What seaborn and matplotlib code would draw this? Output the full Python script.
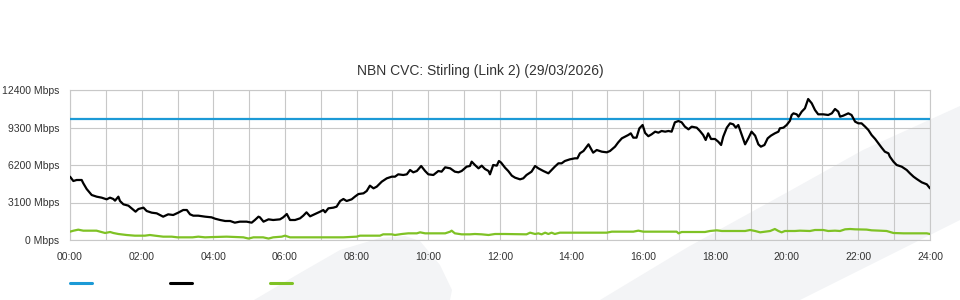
import matplotlib
matplotlib.use('Agg')
import matplotlib.pyplot as plt
import matplotlib.patches as mpatches
from matplotlib.lines import Line2D
from matplotlib.ticker import MultipleLocator
import seaborn as sns

# ---------------- data ----------------
title = "NBN CVC: Stirling (Link 2) (29/03/2026)"
y_ticks = [0, 3100, 6200, 9300, 12400]
y_tick_labels = [f"{v} Mbps" for v in y_ticks]
x_tick_hours = list(range(0, 25, 2))
x_tick_labels = [f"{h:02d}:00" for h in x_tick_hours]

cap_hours = [0, 24]
cap_mbps = [10000, 10000]

dl_hours = [0.0, 0.093, 0.186, 0.326, 0.372, 0.465, 0.605, 0.744, 0.884, 1.023,
            1.116, 1.209, 1.256, 1.35, 1.395, 1.49, 1.63, 1.72, 1.83, 1.91,
            2.05, 2.14, 2.28, 2.42, 2.60, 2.74, 2.88, 3.02, 3.16, 3.26,
            3.35, 3.44, 3.58, 3.77, 3.95, 4.05, 4.19, 4.33, 4.47, 4.60,
            4.74, 4.93, 5.07, 5.16, 5.26, 5.30, 5.40, 5.54, 5.67, 5.86,
            5.95, 6.05, 6.14, 6.28, 6.42, 6.51, 6.60, 6.70, 6.84, 6.98,
            7.07, 7.12, 7.21, 7.35, 7.44, 7.54, 7.63, 7.72, 7.86, 7.95,
            8.05, 8.19, 8.28, 8.37, 8.47, 8.56, 8.70, 8.84, 8.98, 9.07,
            9.16, 9.30, 9.40, 9.49, 9.58, 9.68, 9.80, 9.91, 10.0, 10.14,
            10.28, 10.37, 10.47, 10.61, 10.74, 10.84, 10.93, 11.07, 11.16, 11.21,
            11.30, 11.40, 11.49, 11.58, 11.68, 11.72, 11.81, 11.91, 11.97, 12.03,
            12.14, 12.23, 12.33, 12.42, 12.56, 12.65, 12.74, 12.88, 12.98, 13.07,
            13.21, 13.35, 13.44, 13.53, 13.63, 13.72, 13.81, 13.95, 14.09, 14.16,
            14.23, 14.33, 14.47, 14.56, 14.60, 14.70, 14.84, 14.98, 15.07, 15.21,
            15.30, 15.40, 15.49, 15.58, 15.65, 15.72, 15.81, 15.89, 15.98, 16.05,
            16.14, 16.23, 16.33, 16.42, 16.51, 16.61, 16.70, 16.79, 16.88, 16.98,
            17.07, 17.16, 17.26, 17.35, 17.49, 17.58, 17.67, 17.74, 17.81, 17.89,
            18.0, 18.09, 18.17, 18.23, 18.33, 18.42, 18.51, 18.58, 18.65, 18.75,
            18.84, 18.93, 19.02, 19.12, 19.21, 19.28, 19.38, 19.47, 19.56, 19.67,
            19.77, 19.81, 19.91, 20.0, 20.09, 20.14, 20.19, 20.28, 20.33, 20.42,
            20.51, 20.60, 20.70, 20.79, 20.88, 21.02, 21.16, 21.26, 21.35, 21.44,
            21.49, 21.58, 21.72, 21.81, 21.91, 22.0, 22.09, 22.19, 22.28, 22.37,
            22.47, 22.56, 22.65, 22.74, 22.84, 22.88, 22.98, 23.07, 23.21, 23.35,
            23.44, 23.54, 23.63, 23.77, 23.91, 24.0]
dl_mbps = [5236, 4877, 4960, 4960, 4685, 4216, 3720, 3582, 3500, 3362,
           3500, 3390, 3252, 3582, 3224, 2949, 2838, 2618, 2342, 2563,
           2673, 2397, 2259, 2205, 1929, 2122, 2067, 2259, 2480, 2480,
           2122, 2011, 2011, 1929, 1874, 1760, 1653, 1571, 1571, 1433,
           1516, 1516, 1433, 1653, 1929, 1874, 1516, 1708, 1653, 1708,
           1874, 2149, 1653, 1653, 1791, 2011, 2287, 1957, 2149, 2342,
           2480, 2287, 2618, 2673, 2755, 3224, 3390, 3224, 3362, 3582,
           3800, 3858, 4051, 4492, 4271, 4409, 4822, 5098, 5236, 5236,
           5429, 5374, 5429, 5787, 5594, 5704, 6118, 5704, 5429, 5374,
           5704, 5649, 6008, 5925, 5649, 5594, 5704, 6063, 6118, 6476,
           6200, 5925, 6145, 5870, 5704, 5429, 6200, 6145, 6531, 6400,
           5980, 5704, 5318, 5153, 5015, 5098, 5374, 5649, 6118, 5925,
           5704, 5511, 5787, 6063, 6338, 6338, 6531, 6669, 6752, 6752,
           7165, 7358, 7909, 7440, 7220, 7440, 7302, 7248, 7358, 7716,
           8074, 8405, 8542, 8680, 8818, 8460, 8460, 9231, 9507, 8850,
           8580, 8736, 8956, 8873, 9011, 8956, 9011, 8956, 9727, 9838,
           9727, 9369, 9149, 9369, 9286, 9011, 8680, 8267, 8818, 8350,
           8350, 8129, 7854, 8542, 9286, 9645, 9562, 9286, 9507, 8680,
           7909, 8405, 8956, 8625, 7909, 7716, 7854, 8405, 8625, 8818,
           8956, 9231, 9286, 9507, 9850, 10334, 10471, 10389, 10196, 10609,
           10885, 11656, 11298, 10747, 10389, 10389, 10334, 10471, 10830, 10609,
           10196, 10279, 10471, 10334, 9783, 9645, 9645, 9369, 9094, 8680,
           8350, 7991, 7633, 7302, 7165, 6889, 6476, 6200, 6063, 5787,
           5511, 5236, 5043, 4767, 4602, 4271]

ul_hours = [0.0, 0.1, 0.23, 0.37, 0.74, 0.84, 0.98, 1.12, 1.21, 1.35,
            1.58, 1.81, 1.95, 2.09, 2.23, 2.37, 2.6, 2.84, 3.0, 3.19,
            3.42, 3.58, 3.77, 3.95, 4.37, 4.84, 4.98, 5.12, 5.39, 5.54,
            5.67, 5.91, 6.0, 6.14, 6.7, 7.63, 8.0, 8.09, 8.65, 8.74,
            8.98, 9.07, 9.26, 9.44, 9.68, 9.77, 9.91, 10.19, 10.47, 10.61,
            10.65, 10.74, 10.93, 11.16, 11.3, 11.49, 11.68, 11.86, 12.14, 12.74,
            12.84, 12.98, 13.07, 13.16, 13.26, 13.35, 13.44, 13.53, 13.67, 14.33,
            14.98, 15.12, 15.72, 15.86, 16.0, 16.93, 16.98, 17.07, 17.72, 17.86,
            18.05, 18.19, 18.84, 18.98, 19.12, 19.26, 19.4, 19.54, 19.67, 19.77,
            19.86, 19.95, 20.23, 20.37, 20.65, 20.79, 21.02, 21.16, 21.35, 21.49,
            21.63, 21.77, 21.91, 22.23, 22.37, 22.6, 22.79, 22.98, 23.26, 23.63,
            23.91, 24.0]
ul_mbps = [689, 771, 854, 771, 771, 689, 579, 661, 579, 496,
           413, 358, 358, 358, 413, 358, 276, 276, 220, 220,
           220, 276, 220, 240, 276, 220, 120, 220, 220, 120,
           220, 276, 358, 220, 220, 220, 276, 358, 358, 468,
           468, 413, 496, 551, 551, 634, 551, 551, 551, 689,
           771, 551, 468, 468, 496, 468, 413, 496, 496, 468,
           606, 496, 551, 468, 606, 496, 606, 496, 606, 606,
           606, 689, 689, 771, 689, 689, 551, 661, 661, 744,
           799, 744, 744, 827, 744, 634, 689, 744, 909, 744,
           634, 744, 744, 771, 744, 827, 827, 744, 771, 744,
           882, 909, 882, 860, 800, 771, 744, 579, 551, 551,
           551, 496]

# ---------------- style ----------------
sns.set_style('white')
plt.rcParams['font.family'] = ['Liberation Sans', 'DejaVu Sans']

GRID = '#c8c8c8'
TXT = '#333333'

fig = plt.figure(figsize=(9.6, 3.0), dpi=100, facecolor='white')

# decorative background swooshes (figure pixel coords -> fractions)
def px(pts):
    return [(x / 960, 1 - y / 300) for x, y in pts]

swoosh_a = [(600, 300), (688, 247), (795, 188), (863, 150), (960, 106),
            (960, 220), (800, 300)]
swoosh_b = [(254, 300), (300, 273), (340, 250), (380, 238), (405, 236),
            (420, 241), (440, 265), (452, 290), (450, 300)]
for pts in (swoosh_a, swoosh_b):
    fig.patches.append(mpatches.Polygon(px(pts), closed=True, transform=fig.transFigure,
                                        facecolor='#f3f4f6', edgecolor='none', zorder=-5))

ax = fig.add_axes([70 / 960, 60 / 300, 860 / 960, 150 / 300])
ax.set_facecolor('none')

sns.lineplot(x=cap_hours, y=cap_mbps, ax=ax, color='#1c9ad6', linewidth=1.6, zorder=3)
sns.lineplot(x=ul_hours, y=ul_mbps, ax=ax, color='#7fc225', linewidth=1.6, zorder=3)
sns.lineplot(x=dl_hours, y=dl_mbps, ax=ax, color='#000000', linewidth=1.6, zorder=4)

ax.set_xlim(0, 24)
ax.set_ylim(0, 12400)
ax.set_xlabel('')
ax.set_ylabel('')

ax.set_xticks(x_tick_hours)
ax.set_xticklabels(x_tick_labels)
ax.xaxis.set_minor_locator(MultipleLocator(1))
ax.set_yticks(y_ticks)
ax.set_yticklabels(y_tick_labels)

ax.grid(True, which='both', axis='x', color=GRID, linewidth=0.8, zorder=0)
ax.grid(True, which='major', axis='y', color=GRID, linewidth=0.8, zorder=0)
ax.set_axisbelow(True)

ax.tick_params(axis='x', which='both', direction='out', length=6, width=0.8,
               color=GRID, pad=2.5, labelsize=7.5, labelcolor=TXT)
ax.tick_params(axis='y', which='both', length=0, pad=7.5, labelsize=7.5, labelcolor=TXT)

for s in ax.spines.values():
    s.set_visible(True)
    s.set_color(GRID)
    s.set_linewidth(0.8)

fig.text(0.5, 1 - 71 / 300, title, ha='center', va='center', fontsize=10, color=TXT)

handles = [Line2D([], [], color='#1c9ad6', linewidth=2.2),
           Line2D([], [], color='#000000', linewidth=2.2),
           Line2D([], [], color='#7fc225', linewidth=2.2)]
fig.legend(handles=handles, labels=['', '', ''], loc='center left',
           bbox_to_anchor=(70 / 960, 1 - 284 / 300), ncol=3, frameon=False,
           fontsize=7.5, handlelength=2.1, handletextpad=0.0, columnspacing=7.5,
           borderpad=0, borderaxespad=0)

fig.savefig('out.png', dpi=100, facecolor='white')
